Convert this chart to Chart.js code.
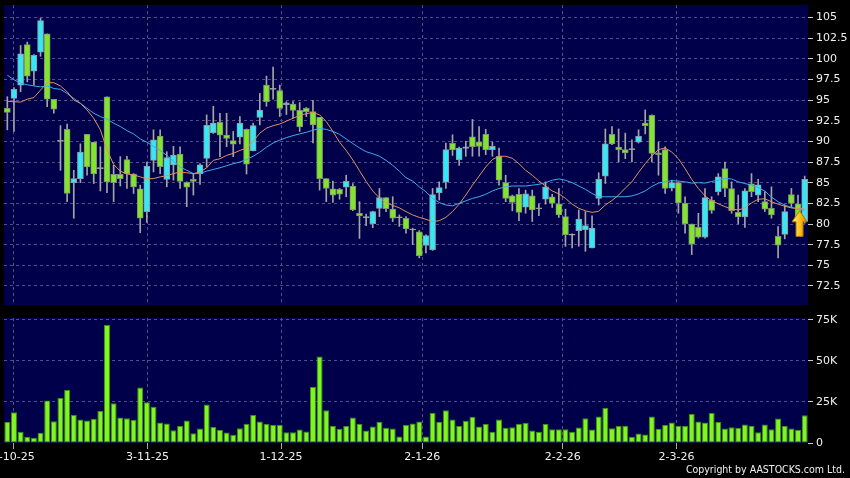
<!DOCTYPE html>
<html>
<head>
<meta charset="utf-8">
<script src="https://cdn.jsdelivr.net/npm/chart.js@4.4.1/dist/chart.umd.min.js"></script>
<style>
  body { margin: 0; background: #000; width: 850px; height: 478px; overflow: hidden; position: relative; }
  #price { position: absolute; left: 0; top: 0; }
  #vol { position: absolute; left: 0; top: 312px; }
  #copy { position: absolute; right: 5px; top: 463px; color: #f0f0f0;
          font: 10.5px "DejaVu Sans Condensed", "DejaVu Sans", sans-serif; }
</style>
</head>
<body>
<canvas id="price" width="850" height="312"></canvas>
<canvas id="vol" width="850" height="166"></canvas>
<div id="copy">Copyright by AASTOCKS.com Ltd.</div>
<script>
// daily candles, oldest first
const open = [94.0,95.2,96.8,101.7,98.5,100.8,103.0,95.1,90.1,91.45,85.0,85.5,90.85,89.9,86.8,95.4,86.0,86.0,87.8,86.05,
  84.25,81.5,87.7,90.65,85.4,87.15,88.45,85.05,85.4,86.05,87.95,91.05,92.3,90.75,90.1,90.5,91.45,88.85,92.9,96.8,
  96.35,96.15,94.45,94.5,93.75,94.0,93.6,92.9,85.5,84.25,84.2,84.45,84.6,81.3,80.9,80.05,81.9,83.2,81.8,80.85,
  80.7,79.35,79.05,77.4,76.9,83.75,85.05,89.75,87.8,89.15,90.55,89.95,90.85,89.0,88.2,85.0,83.4,83.6,82.05,83.4,
  81.95,83.0,83.3,82.45,80.9,78.75,79.2,79.3,77.1,83.1,85.8,90.85,89.3,89.0,89.05,89.9,92.2,93.15,88.6,89.0,
  84.35,85.0,82.5,80.0,79.6,78.4,82.85,83.9,86.7,84.3,81.4,80.85,84.85,83.5,82.7,81.9,78.5,78.75,83.55,82.45,80.3];
const high = [95.4,96.5,101.6,102.0,100.5,104.9,103.0,95.1,91.9,92.1,86.5,89.7,90.85,89.9,89.35,95.4,87.1,88.15,88.2,86.1,
  84.7,87.5,91.4,91.4,88.75,89.4,89.35,85.1,86.1,87.3,93.2,94.25,93.4,93.4,91.2,93.0,91.5,92.2,95.8,97.9,
  99.0,96.8,94.8,94.8,94.7,94.1,94.95,92.9,85.5,85.2,84.3,85.9,84.9,82.7,81.2,81.55,84.3,83.2,83.3,81.1,
  80.9,79.5,79.2,78.7,84.3,85.1,89.8,90.8,89.3,90.0,92.65,91.8,91.45,89.9,89.2,85.9,83.5,84.3,84.1,84.1,
  82.4,85.1,83.6,84.3,81.8,78.8,81.7,81.5,81.0,86.2,91.5,91.8,91.5,91.0,90.2,91.4,93.8,93.2,89.9,89.35,
  85.3,85.1,83.3,80.0,81.3,84.3,83.3,86.1,87.5,85.1,83.5,84.3,86.1,85.4,83.9,84.5,79.7,82.3,84.3,83.5,85.8];
const low = [91.4,91.2,96.0,97.2,96.8,100.3,94.2,93.4,86.5,82.7,80.7,85.0,85.9,84.9,84.0,83.8,82.7,84.6,84.3,83.7,
  78.95,80.2,86.3,86.1,84.5,85.3,84.3,82.1,83.5,84.8,86.9,90.95,88.15,89.35,88.15,89.7,86.05,88.85,92.0,94.25,
  95.1,93.0,93.25,92.8,91.2,93.0,89.8,84.1,82.7,82.6,83.0,83.3,81.6,78.25,79.8,79.55,80.9,81.5,80.3,79.7,
  78.9,77.5,75.9,76.5,76.8,82.9,84.3,88.3,87.1,88.2,88.2,88.2,88.4,88.2,84.7,82.7,81.6,80.4,81.3,80.3,
  81.0,82.4,82.0,80.8,77.3,77.1,77.3,76.7,77.1,82.3,84.9,89.6,87.5,87.9,87.5,89.8,90.9,87.5,85.9,83.7,
  84.0,81.3,78.9,76.3,78.3,78.3,81.3,83.5,83.3,81.3,80.0,79.6,83.3,82.7,81.5,80.7,75.9,78.2,82.1,80.1,80.1];
const close = [93.5,96.3,100.6,97.9,100.4,104.6,95.1,93.9,90.0,83.7,85.5,88.7,86.9,86.05,86.7,85.1,85.0,85.5,86.05,84.5,
  80.7,87.0,90.2,86.95,88.05,88.35,85.15,84.45,85.15,87.15,91.95,92.2,90.75,90.35,89.65,92.2,87.25,91.9,93.8,94.8,
  96.3,94.0,94.65,93.75,91.75,93.6,91.98,85.5,84.3,83.5,83.6,85.15,81.7,80.98,80.75,81.5,83.2,81.85,80.7,80.75,
  79.4,79.28,76.15,78.6,83.55,84.4,89.0,88.95,89.2,89.35,89.35,89.4,88.95,89.4,85.3,83.1,82.6,81.4,83.65,81.7,
  81.85,84.5,82.5,81.1,78.7,78.65,80.6,79.8,79.5,85.4,89.7,89.7,89.0,88.6,89.0,90.6,91.9,88.55,88.4,84.3,
  85.0,82.55,80.0,77.55,78.4,83.2,81.65,85.7,84.3,81.6,80.85,84.0,83.9,84.75,81.8,81.1,77.45,81.5,82.5,80.45,85.4];
const volume = [12700,18700,6800,3800,3200,6200,25800,13300,27400,32200,17100,14300,13700,14700,19500,71800,24200,15500,15100,14100,
  33700,24800,22000,12500,11900,7800,10300,13700,6000,8800,23400,9800,8000,6400,5000,9000,11700,17100,13100,11500,
  10900,11100,6600,6600,8200,7000,34100,52600,19900,10300,8600,10300,15500,11700,7600,10000,12900,9200,8800,4000,
  10900,11900,13100,4000,18300,12900,19900,14300,10300,13500,15900,10000,11500,6800,14300,9200,9600,11700,12300,7600,
  6800,11500,8400,8400,8400,6800,9400,15100,8200,16100,21400,9000,10300,10500,3800,5800,5200,16100,8600,10900,
  12500,10500,10300,17700,13100,12500,18300,12700,8800,9600,9200,11300,10500,6600,11300,8400,14900,10300,8800,8000,16900];
// moving averages as drawn (orange, blue)
const ma10 = [94.85,94.8,94.75,95.1,95.3,96.2,97.1,97.1,96.7,96.0,95.0,94.6,93.8,92.8,91.4,89.0,87.2,86.4,86.05,85.95,
  85.7,85.45,85.5,85.7,85.85,86.1,86.3,86.2,86.1,86.3,86.8,87.7,87.9,88.3,88.55,88.9,89.2,90.0,91.0,91.6,
  91.9,92.1,92.45,92.8,93.15,93.35,93.5,93.2,92.4,91.2,89.9,88.9,87.75,86.45,85.15,84.0,83.15,82.6,82.25,81.95,
  81.5,81.1,80.8,80.57,80.29,80.4,80.8,81.5,82.4,83.5,84.7,85.8,86.9,87.8,88.2,88.2,87.95,87.3,86.5,85.9,
  85.2,84.6,84.0,83.65,83.1,82.4,81.9,81.6,81.4,81.55,82.3,82.85,83.5,84.35,85.1,86.25,87.3,88.25,89.0,89.2,
  88.7,87.9,86.7,85.4,84.3,83.4,82.8,82.45,82.1,81.8,81.7,81.95,82.55,83.0,83.05,82.7,82.4,82.15,81.95,81.9,81.8];
const ma20 = [98.0,97.46,97.05,96.85,96.7,96.6,96.7,96.4,96.3,95.8,95.2,94.6,94.0,93.4,93.0,92.7,92.2,91.8,91.3,90.9,
  90.3,89.9,89.4,88.9,88.3,87.6,86.9,86.5,86.1,86.1,86.4,86.6,86.8,87.05,87.3,87.5,87.8,88.2,88.7,89.3,
  89.8,90.15,90.45,90.7,90.9,91.1,91.35,91.55,91.45,91.2,90.85,90.3,89.75,89.2,88.75,88.5,88.2,87.7,87.1,86.4,
  85.6,85.2,84.5,83.9,83.1,82.6,82.3,82.2,82.5,82.8,83.1,83.3,83.6,84.0,84.3,84.5,84.6,84.6,84.6,84.7,
  84.8,85.0,85.3,85.45,85.3,85.0,84.6,84.2,83.7,83.3,83.3,83.3,83.3,83.3,83.4,83.65,84.0,84.55,84.95,85.1,
  85.25,85.2,85.1,84.95,85.0,84.95,85.15,85.3,85.5,85.45,85.1,84.9,84.7,84.4,84.0,83.25,82.7,82.3,82.0,81.8,81.7];

const dateTicks = ['2-10-25', '3-11-25', '1-12-25', '2-1-26', '2-2-26', '2-3-26'];
const dateTickPos = [0.9, 21.1, 41.2, 62.45, 83.6, 100.7];
const priceTicks = [72.5, 75, 77.5, 80, 82.5, 85, 87.5, 90, 92.5, 95, 97.5, 100, 102.5, 105];
const volTicks = [0, 25000, 50000, 75000];
const arrowAt = { index: 119, top: 81.6, bottom: 78.5 };

const n = close.length;
const UP = '#36e8f5', DOWN = '#82e42e', FLAT = '#b4b4b4';
const GRID = '#4e4e88';
const PLOT_BG = '#00004a';

Chart.defaults.font.family = 'DejaVu Sans';
Chart.defaults.font.size = 11;
Chart.defaults.color = '#f0f0f0';

const wicks = [], bodies = [], bodyFill = [], bodyEdge = [], vols = [], line10 = [], line20 = [];
for (let i = 0; i < n; i++) {
  wicks.push({ x: i, y: [low[i], high[i]] });
  bodies.push({ x: i, y: [open[i], close[i]] });
  const d = close[i] - open[i];
  if (Math.abs(d) < 0.16) { bodyFill.push(FLAT); bodyEdge.push('#9a9a9a'); }
  else if (d > 0) { bodyFill.push(UP); bodyEdge.push('#8c9ca4'); }
  else { bodyFill.push(DOWN); bodyEdge.push('#7e9470'); }
  vols.push({ x: i, y: volume[i] });
  line10.push({ x: i, y: ma10[i] });
  line20.push({ x: i, y: ma20[i] });
}

const plotBg = {
  id: 'plotBg',
  beforeDraw(chart) {
    const a = chart.chartArea, ctx = chart.ctx;
    ctx.save();
    ctx.fillStyle = PLOT_BG;
    ctx.fillRect(a.left, a.top, a.right - a.left, a.bottom - a.top);
    ctx.restore();
  }
};

const arrowMark = {
  id: 'arrowMark',
  afterDatasetsDraw(chart) {
    const { ctx, scales: { x, y } } = chart;
    const cx = x.getPixelForValue(arrowAt.index) + 1.5;
    const top = y.getPixelForValue(arrowAt.top), bot = y.getPixelForValue(arrowAt.bottom);
    const hw = 7.5, sw = 3.5, hh = 11;
    ctx.save();
    const g = ctx.createLinearGradient(cx - hw, 0, cx + hw, 0);
    g.addColorStop(0, '#fff09a');
    g.addColorStop(0.5, '#ffc414');
    g.addColorStop(1, '#d98600');
    ctx.fillStyle = g;
    ctx.beginPath();
    ctx.moveTo(cx, top);
    ctx.lineTo(cx + hw, top + hh);
    ctx.lineTo(cx + sw, top + hh);
    ctx.lineTo(cx + sw, bot);
    ctx.lineTo(cx - sw, bot);
    ctx.lineTo(cx - sw, top + hh);
    ctx.lineTo(cx - hw, top + hh);
    ctx.closePath();
    ctx.fill();
    ctx.strokeStyle = '#b57400';
    ctx.lineWidth = 1;
    ctx.stroke();
    ctx.restore();
  }
};

function dateAxis(withLabels) {
  return {
    type: 'linear', min: -0.5, max: n - 0.5, offset: false,
    grid: { offset: false, color: GRID, drawTicks: withLabels, tickLength: 6, tickColor: '#a8a8a8' },
    border: { display: false, dash: [3, 3] },
    ticks: { display: withLabels, autoSkip: false, maxRotation: 0, padding: 2, color: '#f0f0f0',
             callback: (v, i) => dateTicks[i] },
    afterBuildTicks: s => { s.ticks = dateTickPos.map(v => ({ value: v })); },
    afterFit: s => { s.paddingLeft = 0; s.paddingRight = 0; s.height = withLabels ? 35 : 0; }
  };
}

new Chart(document.getElementById('price'), {
  type: 'bar',
  data: {
    datasets: [
      { type: 'line', data: line10, borderColor: '#e2905e', borderWidth: 1, pointRadius: 0, order: 0 },
      { type: 'line', data: line20, borderColor: '#40aaf0', borderWidth: 1, pointRadius: 0, order: 0 },
      { data: bodies, backgroundColor: bodyFill, borderColor: bodyEdge, borderWidth: 1, borderSkipped: false,
        minBarLength: 1, maxBarThickness: 6, grouped: false, barPercentage: 1, categoryPercentage: 1, order: 1 },
      { data: wicks, backgroundColor: '#a4a4a4', borderWidth: 0, maxBarThickness: 1,
        grouped: false, barPercentage: 1, categoryPercentage: 1, order: 2 }
    ]
  },
  options: {
    responsive: false, animation: false, devicePixelRatio: 1, events: [],
    layout: { padding: { left: 4, top: 5, right: 0, bottom: 7 } },
    plugins: { legend: { display: false }, tooltip: { enabled: false } },
    scales: {
      x: dateAxis(false),
      y: {
        position: 'right', min: 70.2, max: 106.5,
        grid: { color: GRID, tickLength: 5, tickColor: '#c8c8c8' },
        border: { display: false, dash: [3, 3] },
        ticks: { padding: 3, color: '#f0f0f0', callback: v => String(v) },
        afterBuildTicks: s => { s.ticks = priceTicks.map(v => ({ value: v })); },
        afterFit: s => { s.width = 42; s.paddingTop = 0; s.paddingBottom = 0; }
      }
    }
  },
  plugins: [plotBg, arrowMark]
});

new Chart(document.getElementById('vol'), {
  type: 'bar',
  data: {
    datasets: [
      { data: vols, backgroundColor: '#80f522', borderColor: '#3f8f15', borderWidth: 1, borderSkipped: false,
        maxBarThickness: 6, grouped: false, barPercentage: 0.92, categoryPercentage: 1 }
    ]
  },
  options: {
    responsive: false, animation: false, devicePixelRatio: 1, events: [],
    layout: { padding: { left: 4, top: 6, right: 0, bottom: 0 } },
    plugins: { legend: { display: false }, tooltip: { enabled: false } },
    scales: {
      x: dateAxis(true),
      y: {
        position: 'right', min: 0, max: 76000,
        grid: { color: c => (c.tick && c.tick.value === 0) ? 'rgba(0,0,0,0)' : GRID, tickLength: 5, tickColor: '#c8c8c8' },
        border: { display: false, dash: [3, 3] },
        ticks: { padding: 3, color: '#f0f0f0', callback: v => v === 0 ? '0' : (v / 1000) + 'K' },
        afterBuildTicks: s => { s.ticks = volTicks.map(v => ({ value: v })); },
        afterFit: s => { s.width = 42; s.paddingTop = 0; s.paddingBottom = 0; }
      }
    }
  },
  plugins: [plotBg]
});
</script>
</body>
</html>
